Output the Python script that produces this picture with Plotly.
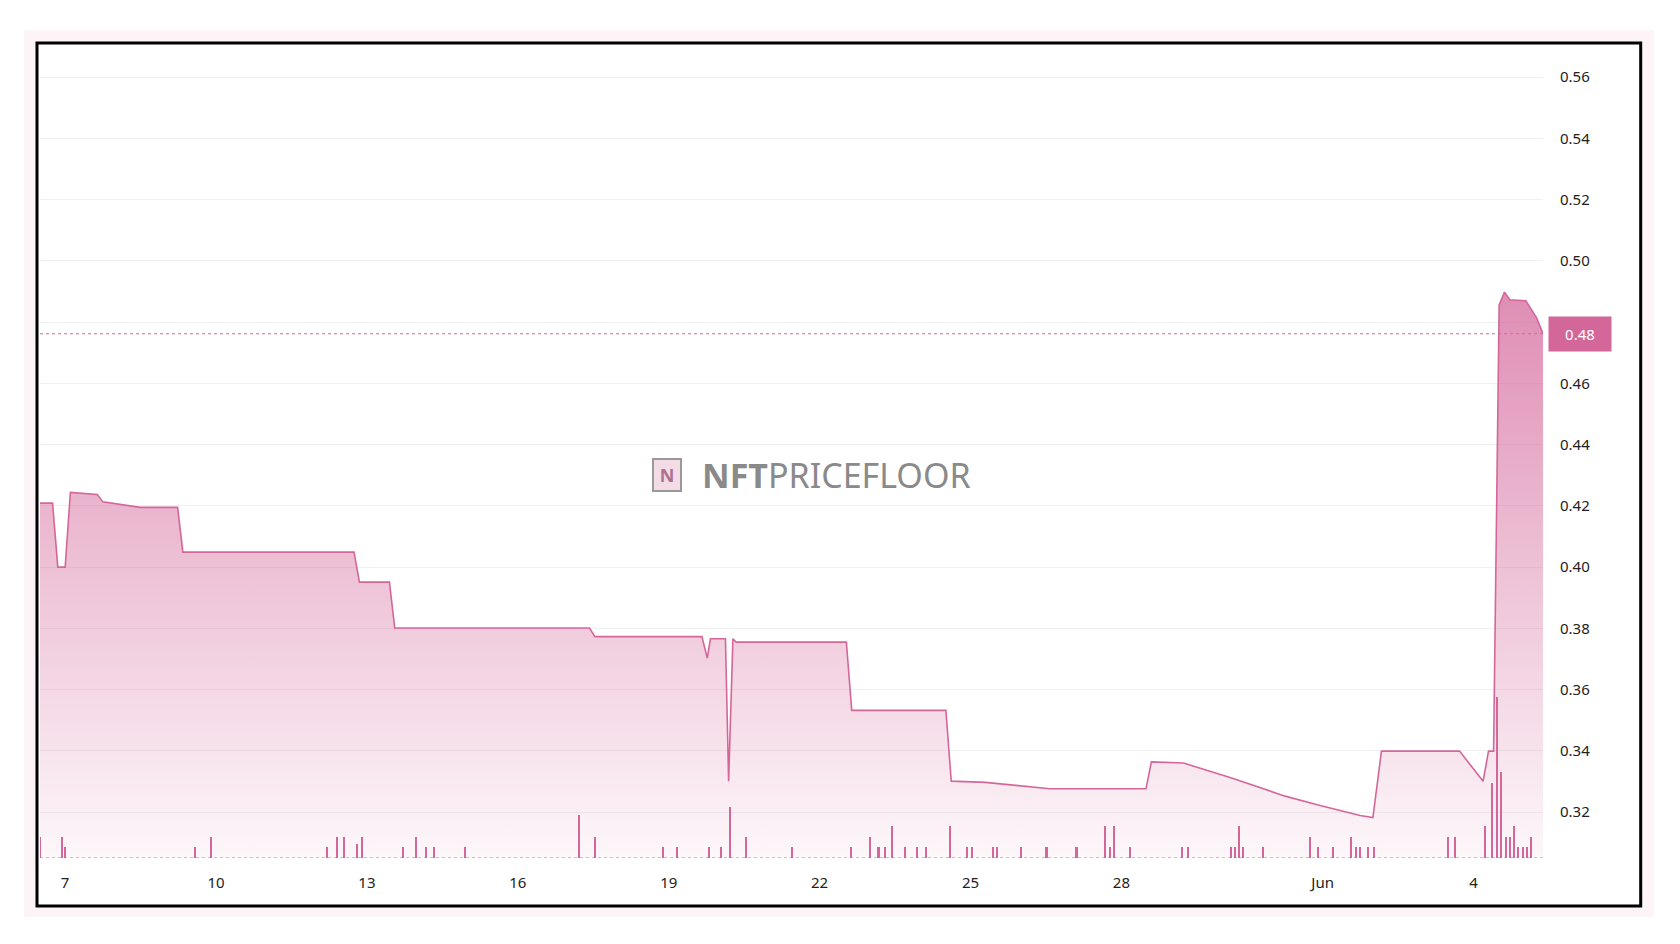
import plotly.graph_objects as go

# floor price line
price_time = [
    "2023-05-06 12:00", "2023-05-06 18:00", "2023-05-06 20:30", "2023-05-07 00:00",
    "2023-05-07 02:30", "2023-05-07 15:20", "2023-05-07 18:00", "2023-05-08 11:45",
    "2023-05-09 05:40", "2023-05-09 08:10", "2023-05-12 17:50", "2023-05-12 20:25",
    "2023-05-13 10:44", "2023-05-13 13:16", "2023-05-17 10:13", "2023-05-17 12:46",
    "2023-05-19 15:50", "2023-05-19 18:23", "2023-05-19 19:55", "2023-05-20 03:04",
    "2023-05-20 04:35", "2023-05-20 06:38", "2023-05-20 08:10", "2023-05-22 12:46",
    "2023-05-22 15:19", "2023-05-24 12:15", "2023-05-24 14:48", "2023-05-25 07:09",
    "2023-05-26 13:47", "2023-05-28 11:44", "2023-05-28 14:18", "2023-05-29 05:37",
    "2023-05-30 04:35", "2023-05-31 06:07", "2023-05-31 21:27", "2023-06-01 17:53",
    "2023-06-02 00:00", "2023-06-02 04:05", "2023-06-03 17:20", "2023-06-04 04:35",
    "2023-06-04 07:10", "2023-06-04 09:35", "2023-06-04 12:15", "2023-06-04 14:48",
    "2023-06-04 17:20", "2023-06-05 01:00", "2023-06-05 06:07", "2023-06-05 09:10",
]
price = [
    0.4209, 0.4209, 0.4000, 0.4000,
    0.4244, 0.4237, 0.4213, 0.4195,
    0.4195, 0.4049, 0.4049, 0.3951,
    0.3951, 0.3801, 0.3801, 0.3773,
    0.3773, 0.3703, 0.3766, 0.3766,
    0.3301, 0.3766, 0.3755, 0.3755,
    0.3532, 0.3532, 0.3301, 0.3297,
    0.3276, 0.3276, 0.3364, 0.3360,
    0.3311, 0.3252, 0.3224, 0.3189,
    0.3182, 0.3399, 0.3399, 0.3301,
    0.3399, 0.3399, 0.4856, 0.4898,
    0.4873, 0.4870, 0.4814, 0.4762,
]

# sales volume bars
vol_time = [
    "2023-05-06 12:00", "2023-05-06 22:30", "2023-05-07 00:00", "2023-05-09 13:45",
    "2023-05-09 21:27", "2023-05-12 05:06", "2023-05-12 09:42", "2023-05-12 13:16",
    "2023-05-12 19:25", "2023-05-12 21:27", "2023-05-13 17:21", "2023-05-13 23:30",
    "2023-05-14 04:05", "2023-05-14 08:10", "2023-05-14 22:58", "2023-05-17 05:06",
    "2023-05-17 12:46", "2023-05-18 21:27", "2023-05-19 04:05", "2023-05-19 19:25",
    "2023-05-20 01:02", "2023-05-20 05:06", "2023-05-20 12:46", "2023-05-21 10:44",
    "2023-05-22 14:48", "2023-05-23 00:00", "2023-05-23 04:05", "2023-05-23 07:09",
    "2023-05-23 10:44", "2023-05-23 16:51", "2023-05-23 22:28", "2023-05-24 02:33",
    "2023-05-24 14:18", "2023-05-24 22:28", "2023-05-25 00:30", "2023-05-25 10:44",
    "2023-05-25 12:46", "2023-05-26 00:00", "2023-05-26 12:15", "2023-05-27 02:33",
    "2023-05-27 16:20", "2023-05-27 18:23", "2023-05-27 20:25", "2023-05-28 04:05",
    "2023-05-29 05:06", "2023-05-29 07:40", "2023-05-30 04:05", "2023-05-30 06:07",
    "2023-05-30 08:10", "2023-05-30 10:13", "2023-05-30 19:25", "2023-05-31 17:53",
    "2023-05-31 21:57", "2023-06-01 05:06", "2023-06-01 13:45", "2023-06-01 15:50",
    "2023-06-01 17:53", "2023-06-01 21:27", "2023-06-02 00:30", "2023-06-03 11:45",
    "2023-06-03 15:19", "2023-06-04 05:37", "2023-06-04 08:40", "2023-06-04 11:14",
    "2023-06-04 13:16", "2023-06-04 15:19", "2023-06-04 17:21", "2023-06-04 19:25",
    "2023-06-04 21:27", "2023-06-04 23:30", "2023-06-05 01:33", "2023-06-05 03:36",
]
volume = [
    2, 2, 1, 1, 2, 1, 2, 2, 1.3, 2, 1, 2, 1, 1, 1, 4,
    2, 1, 1, 1, 1, 4.8, 2, 1, 1, 2, 1, 1, 3, 1, 1, 1,
    3, 1, 1, 1, 1, 1, 1, 1, 3, 1, 3, 1, 1, 1, 1, 1,
    3, 1, 1, 2, 1, 1, 2, 1, 1, 1, 1, 2, 2, 3, 7, 15,
    8, 2, 2, 3, 1, 1, 1, 2,
]

tick_vals = ["2023-05-07", "2023-05-10", "2023-05-13", "2023-05-16", "2023-05-19",
             "2023-05-22", "2023-05-25", "2023-05-28", "2023-06-01", "2023-06-04"]
tick_text = ["7", "10", "13", "16", "19", "22", "25", "28", "Jun", "4"]
last_price = 0.4762

PINK = "#d4679a"

fig = go.Figure()
fig.add_trace(go.Scatter(
    x=price_time, y=price, mode="lines", line=dict(color=PINK, width=1.6),
    fill="tozeroy",
    fillgradient=dict(type="vertical", start=0.305, stop=0.49,
                      colorscale=[[0, "rgba(212,103,154,0.05)"], [1, "rgba(212,103,154,0.75)"]]),
    showlegend=False,
))
fig.add_trace(go.Bar(
    x=vol_time, y=volume, yaxis="y2", marker=dict(color=PINK, line=dict(width=0)),
    width=3600000, showlegend=False,
))

fig.update_layout(
    width=1680, height=944,
    margin=dict(l=32, r=145, t=37, b=94),
    paper_bgcolor="white", plot_bgcolor="rgba(0,0,0,0)",
    font=dict(family="Noto Sans, sans-serif", color="#222", size=15),
    xaxis=dict(range=["2023-05-06 12:00", "2023-06-05 09:10"], tickvals=tick_vals, ticktext=tick_text,
               showgrid=False, zeroline=False, showline=False, ticks="", ticklabelstandoff=14),
    yaxis=dict(range=[0.305, 0.5705], side="right", tickvals=[0.32 + 0.02 * i for i in range(13)],
               tickformat=".2f", gridcolor="#eef0f2", zeroline=False, ticks="", ticklabelstandoff=16),
    yaxis2=dict(range=[0, 75.8], overlaying="y", visible=False),
    bargap=0,
    shapes=[
        dict(type="rect", xref="paper", yref="paper", x0=-0.0107, x1=1.074, y0=-0.0726, y1=1.018,
             fillcolor="#fdf4f8", line=dict(width=0), layer="below"),
        dict(type="rect", xref="paper", yref="paper", x0=-0.002, x1=1.065, y0=-0.059, y1=1.0026,
             fillcolor="white", line=dict(color="black", width=3), layer="below"),
        dict(type="line", xref="paper", yref="y", x0=0, x1=1, y0=last_price, y1=last_price,
             line=dict(color=PINK, width=1, dash="dot")),
        dict(type="line", xref="paper", yref="y2", x0=0, x1=1, y0=0, y1=0,
             line=dict(color=PINK, width=1, dash="dot")),
    ],
    annotations=[
        dict(xref="paper", yref="y", x=1.003, y=last_price, xanchor="left", showarrow=False,
             text="0.48", font=dict(color="white", size=15), bgcolor=PINK,
             width=60, height=32),
        dict(xref="paper", yref="paper", x=0.53, y=0.471, showarrow=False,
             text="<b>NFT</b>PRICEFLOOR", font=dict(color="#8a8a8a", size=34)),
        dict(xref="paper", yref="paper", x=0.417, y=0.471, showarrow=False,
             text="<b>N</b>", font=dict(color="#b07090", size=18), bordercolor="#999",
             borderwidth=2, bgcolor="#f3dce6", width=24, height=28),
    ],
)

fig.write_html("out.html")
